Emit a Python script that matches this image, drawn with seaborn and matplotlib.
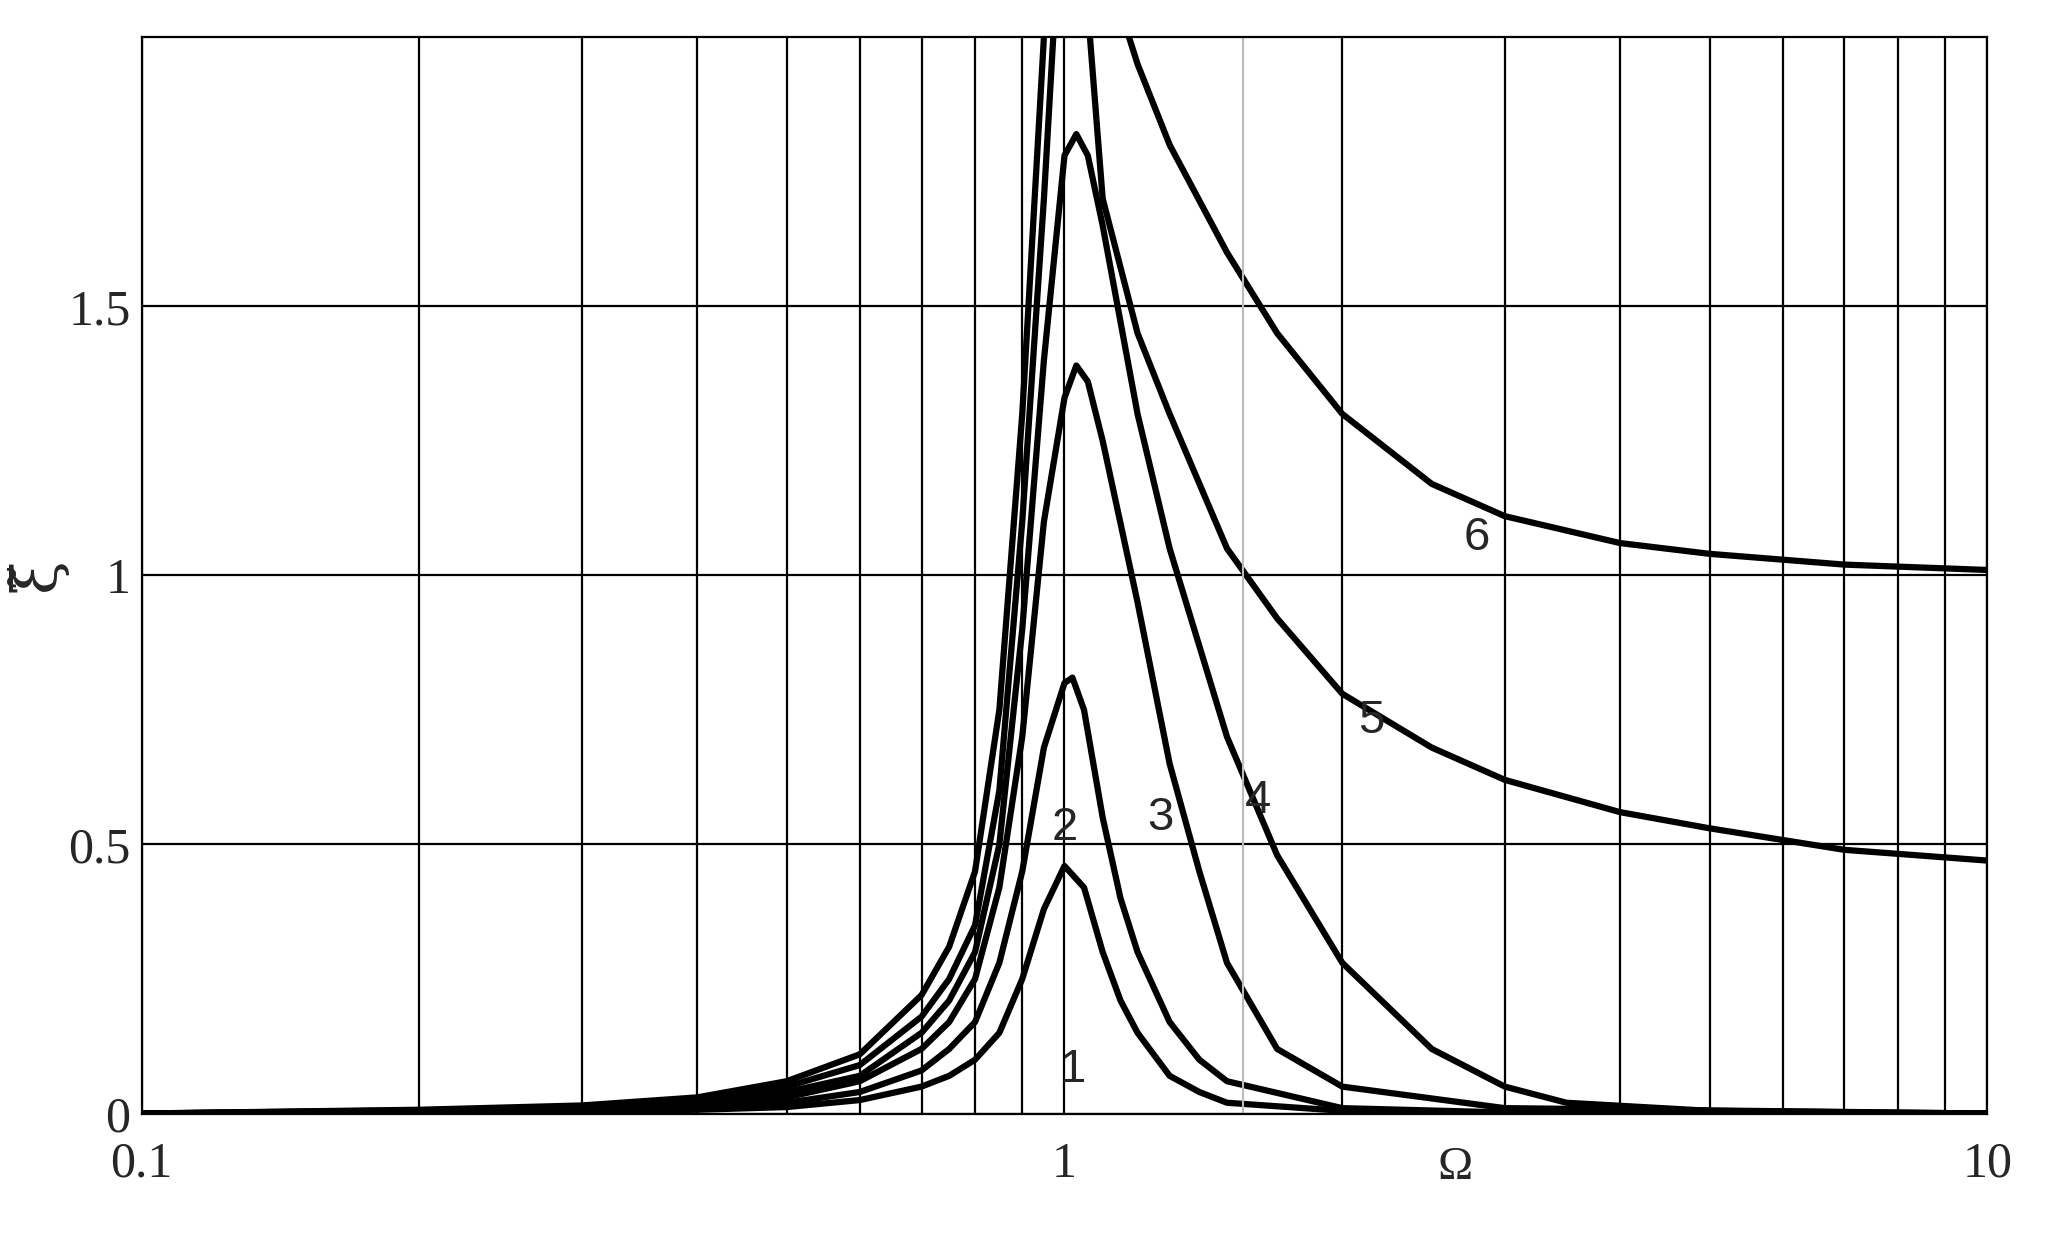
import matplotlib
matplotlib.use("Agg")
import matplotlib.pyplot as plt
import seaborn as sns
import pandas as pd
from matplotlib.ticker import FixedLocator, NullFormatter

# curves (Omega, xi~)
x1 = [0.1, 0.2, 0.3, 0.4, 0.5, 0.6, 0.7, 0.75, 0.8, 0.85, 0.9, 0.95, 1.0, 1.05, 1.1, 1.15, 1.2, 1.3, 1.4, 1.5, 2.0, 3.0, 10]
y1 = [0, 0.002, 0.004, 0.007, 0.012, 0.025, 0.05, 0.07, 0.1, 0.15, 0.25, 0.38, 0.46, 0.42, 0.3, 0.21, 0.15, 0.07, 0.04, 0.02, 0.005, 0.001, 0]
x2 = [0.1, 0.2, 0.3, 0.4, 0.5, 0.6, 0.7, 0.75, 0.8, 0.85, 0.9, 0.95, 1.0, 1.02, 1.05, 1.1, 1.15, 1.2, 1.3, 1.4, 1.5, 2.0, 3.0, 10]
y2 = [0, 0.003, 0.006, 0.012, 0.02, 0.04, 0.08, 0.12, 0.17, 0.28, 0.45, 0.68, 0.8, 0.81, 0.75, 0.55, 0.4, 0.3, 0.17, 0.1, 0.06, 0.01, 0.002, 0]
x3 = [0.1, 0.2, 0.3, 0.4, 0.5, 0.6, 0.7, 0.75, 0.8, 0.85, 0.9, 0.95, 1.0, 1.03, 1.06, 1.1, 1.2, 1.3, 1.4, 1.5, 1.7, 2.0, 3.0, 10]
y3 = [0, 0.004, 0.008, 0.016, 0.03, 0.06, 0.12, 0.17, 0.25, 0.42, 0.7, 1.1, 1.33, 1.39, 1.36, 1.25, 0.95, 0.65, 0.45, 0.28, 0.12, 0.05, 0.01, 0]
x4 = [0.1, 0.2, 0.3, 0.4, 0.5, 0.6, 0.7, 0.75, 0.8, 0.85, 0.9, 0.95, 1.0, 1.03, 1.06, 1.1, 1.2, 1.3, 1.5, 1.7, 2.0, 2.5, 3.0, 3.5, 5.0, 10]
y4 = [0, 0.005, 0.01, 0.02, 0.04, 0.07, 0.15, 0.21, 0.3, 0.5, 0.9, 1.4, 1.78, 1.82, 1.78, 1.65, 1.3, 1.05, 0.7, 0.48, 0.28, 0.12, 0.05, 0.02, 0.005, 0]
x5 = [0.1, 0.2, 0.3, 0.4, 0.5, 0.6, 0.7, 0.75, 0.8, 0.85, 0.9, 0.95, 0.98, 1.06, 1.1, 1.2, 1.3, 1.5, 1.7, 2.0, 2.5, 3.0, 4.0, 5.0, 7.0, 10]
y5 = [0, 0.006, 0.012, 0.025, 0.05, 0.09, 0.18, 0.25, 0.35, 0.6, 1.1, 1.7, 2.1, 2.05, 1.7, 1.45, 1.3, 1.05, 0.92, 0.78, 0.68, 0.62, 0.56, 0.53, 0.49, 0.47]
x6 = [0.1, 0.2, 0.3, 0.4, 0.5, 0.6, 0.7, 0.75, 0.8, 0.85, 0.9, 0.95, 0.97, 1.1, 1.15, 1.2, 1.3, 1.5, 1.7, 2.0, 2.5, 3.0, 4.0, 5.0, 7.0, 10]
y6 = [0, 0.007, 0.015, 0.03, 0.06, 0.11, 0.22, 0.31, 0.45, 0.75, 1.3, 2.0, 2.3, 2.3, 2.05, 1.95, 1.8, 1.6, 1.45, 1.3, 1.17, 1.11, 1.06, 1.04, 1.02, 1.01]

curves = [(x1, y1), (x2, y2), (x3, y3), (x4, y4), (x5, y5), (x6, y6)]
curve_labels = ["1", "2", "3", "4", "5", "6"]
label_pos = [(1.02, 0.08), (1.0, 0.53), (1.27, 0.55), (1.62, 0.58), (2.15, 0.73), (2.8, 1.07)]

rows = []
for i, (xs, ys) in enumerate(curves):
    for xv, yv in zip(xs, ys):
        rows.append({"curve": curve_labels[i], "Omega": xv, "xi": yv})
df = pd.DataFrame(rows)

sns.set_style("white")
fig = plt.figure(figsize=(20.53, 12.4), dpi=100)
ax = fig.add_axes([0.069, 0.102, 0.899, 0.868])

sns.lineplot(data=df, x="Omega", y="xi", units="curve", estimator=None,
             color="black", linewidth=4.5, ax=ax, sort=False)

ax.set_xscale("log")
ax.set_xlim(0.1, 10)
ax.set_ylim(0, 2.0)

minor = [m * 10.0 ** e for e in (-1, 0) for m in range(2, 10)]
ax.xaxis.set_minor_locator(FixedLocator(minor))
ax.xaxis.set_minor_formatter(NullFormatter())
ax.set_xticks([0.1, 1, 10])
ax.set_xticklabels(["0.1", "1", "10"])
ax.set_yticks([0, 0.5, 1, 1.5])
ax.set_yticklabels(["0", "0.5", "1", "1.5"])
ax.grid(True, which="both", axis="x", color="black", linewidth=1.6)
ax.grid(True, which="major", axis="y", color="black", linewidth=1.6)
ax.tick_params(axis="x", which="both", length=0, labelsize=36, pad=20)
ax.tick_params(axis="y", which="both", length=0, labelsize=36, pad=8)
for t in ax.get_xticklabels() + ax.get_yticklabels():
    t.set_family("Liberation Serif")
for s in ax.spines.values():
    s.set_color("black")
    s.set_linewidth(1.6)

ax.axvline(1.56, color="#bbbbbb", linewidth=1.5)

ax.set_xlabel("")
ax.set_ylabel("ξ\u0303", fontsize=44, family="DejaVu Serif")
ax.yaxis.set_label_coords(-0.04, 0.5)
ax.text(2.65, -0.1, "Ω", fontsize=34, family="Liberation Serif", ha="center", va="center")

for lab, (lx, ly) in zip(curve_labels, label_pos):
    ax.text(lx, ly, lab, fontsize=34, ha="center", va="center", family="Liberation Sans")

fig.savefig("out.png", dpi=100)
